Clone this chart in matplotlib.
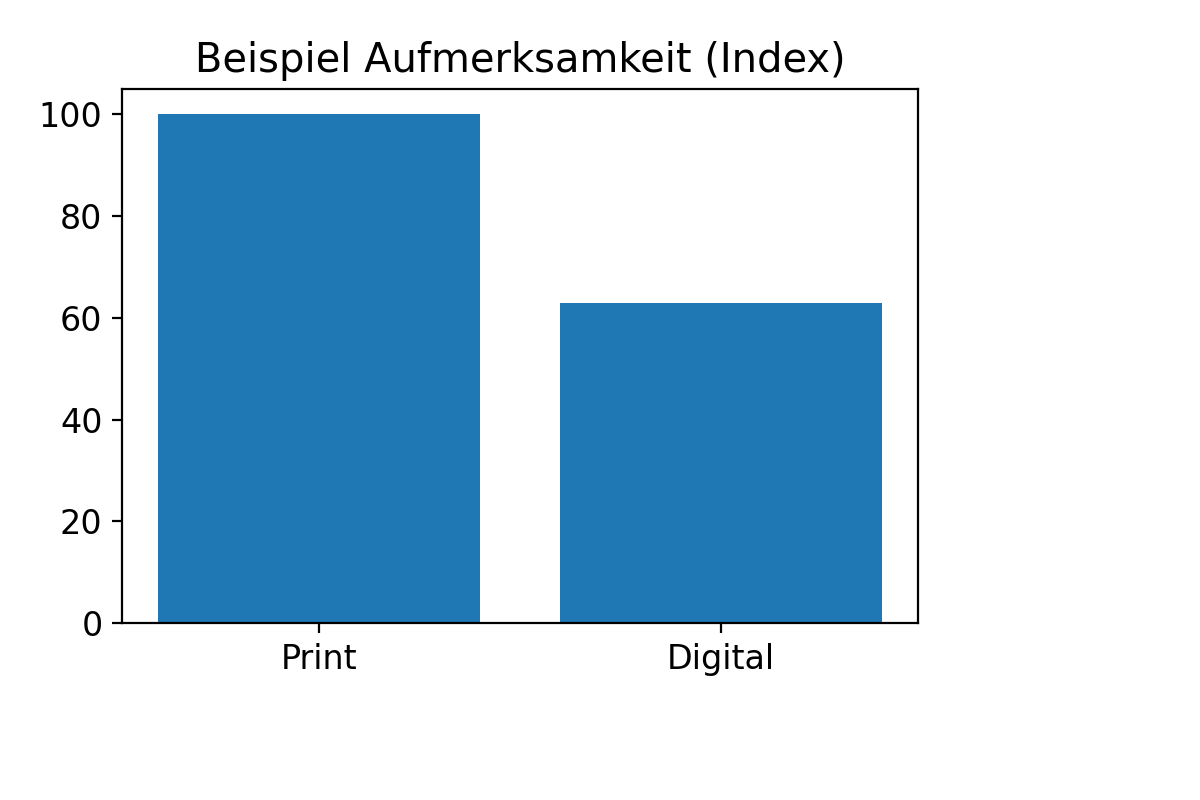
import matplotlib
matplotlib.use("Agg")
import matplotlib.pyplot as plt

# data
kanaele = ["Print", "Digital"]
aufmerksamkeit = [100, 63]

plt.rcParams["font.size"] = 12

fig = plt.figure(figsize=(6, 4), dpi=200)
ax = fig.add_axes([0.1017, 0.221, 0.6633, 0.668])
ax.bar(kanaele, aufmerksamkeit, color="#1f77b4")
ax.set_title("Beispiel Aufmerksamkeit (Index)")
ax.set_yticks([0, 20, 40, 60, 80, 100])

fig.savefig("out.png", dpi=200)
